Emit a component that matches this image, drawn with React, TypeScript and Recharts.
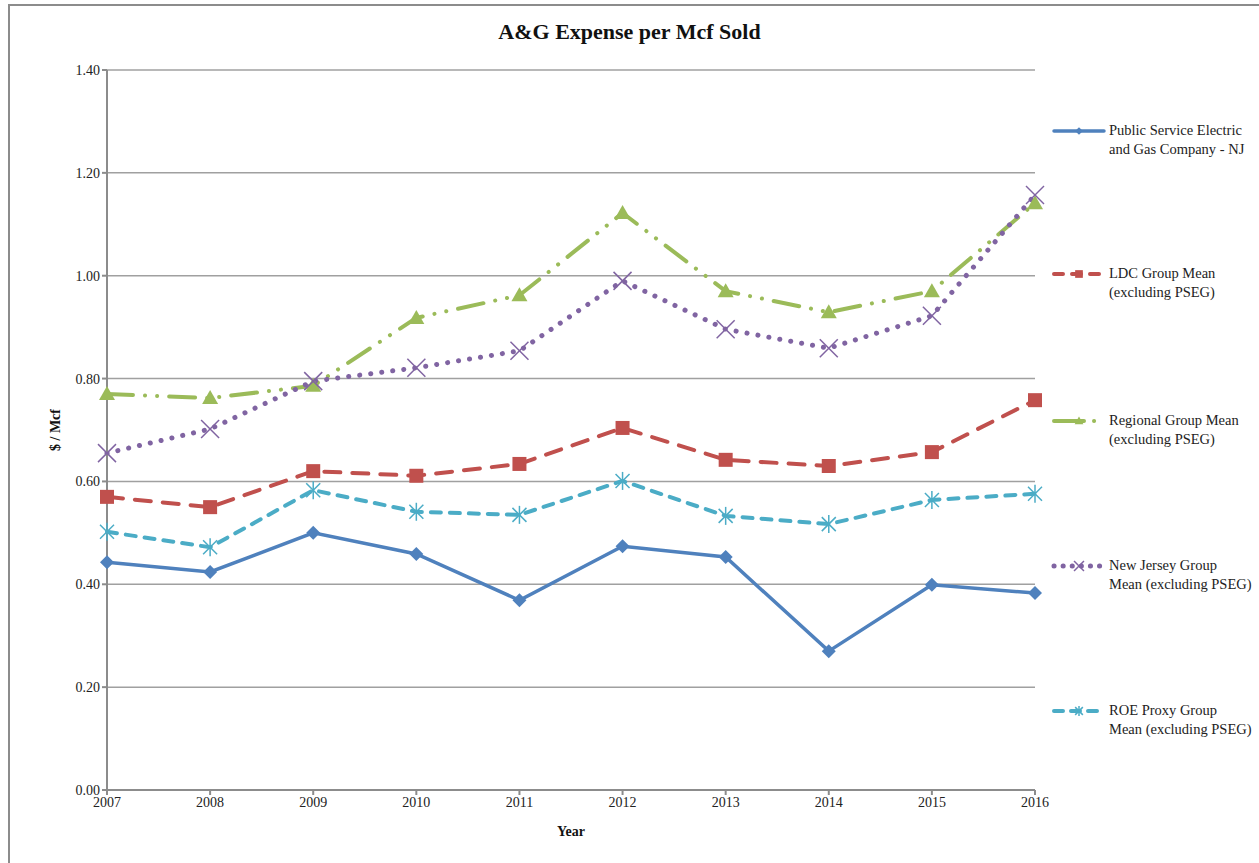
import React from "react";
import { LineChart, Line, XAxis, YAxis, CartesianGrid, Label } from "recharts";

const years = ["2007", "2008", "2009", "2010", "2011", "2012", "2013", "2014", "2015", "2016"];
const psegValues = [0.443, 0.424, 0.5, 0.459, 0.369, 0.474, 0.453, 0.27, 0.399, 0.383];
const ldcValues = [0.57, 0.55, 0.62, 0.611, 0.634, 0.704, 0.642, 0.63, 0.657, 0.758];
const regionalValues = [0.77, 0.762, 0.786, 0.918, 0.962, 1.122, 0.97, 0.929, 0.97, 1.141];
const njValues = [0.655, 0.702, 0.795, 0.821, 0.854, 0.99, 0.896, 0.859, 0.922, 1.157];
const roeValues = [0.502, 0.472, 0.583, 0.541, 0.535, 0.601, 0.533, 0.517, 0.564, 0.576];
const yTicks = [0, 0.2, 0.4, 0.6, 0.8, 1.0, 1.2, 1.4];

const data = years.map((y, i) => ({
  year: y,
  pseg: psegValues[i],
  ldc: ldcValues[i],
  regional: regionalValues[i],
  nj: njValues[i],
  roe: roeValues[i],
}));

const FONT = "'Liberation Serif', 'DejaVu Serif', serif";
const BLUE = "#4F81BD";
const RED = "#C0504D";
const GREEN = "#9BBB59";
const PURPLE = "#8064A2";
const CYAN = "#4BACC6";

type MK = "diamond" | "square" | "triangle" | "x" | "star";

const markerShape = (kind: MK, cx: number, cy: number, color: string, k: number = 1) => {
  switch (kind) {
    case "diamond":
      return <path d={`M${cx},${cy - 7 * k} L${cx + 7 * k},${cy} L${cx},${cy + 7 * k} L${cx - 7 * k},${cy} Z`} fill={color} />;
    case "square":
      return <rect x={cx - 7 * k} y={cy - 7 * k} width={14 * k} height={14 * k} fill={color} />;
    case "triangle":
      return <path d={`M${cx},${cy - 8 * k} L${cx + 8 * k},${cy + 6 * k} L${cx - 8 * k},${cy + 6 * k} Z`} fill={color} />;
    case "x":
      return (
        <g stroke={color} strokeWidth={1.5}>
          <line x1={cx - 9 * k} y1={cy - 9 * k} x2={cx + 9 * k} y2={cy + 9 * k} />
          <line x1={cx - 9 * k} y1={cy + 9 * k} x2={cx + 9 * k} y2={cy - 9 * k} />
        </g>
      );
    case "star":
      return (
        <g stroke={color} strokeWidth={1.5}>
          <line x1={cx - 7 * k} y1={cy - 7 * k} x2={cx + 7 * k} y2={cy + 7 * k} />
          <line x1={cx - 7 * k} y1={cy + 7 * k} x2={cx + 7 * k} y2={cy - 7 * k} />
          <line x1={cx} y1={cy - 9 * k} x2={cx} y2={cy + 9 * k} />
        </g>
      );
  }
};

const makeDot = (kind: MK, color: string) => (props: any) => {
  const { cx, cy, index } = props;
  if (cx == null || cy == null) return <g key={`d-${kind}-${index}`} />;
  return <g key={`d-${kind}-${index}`}>{markerShape(kind, cx, cy, color)}</g>;
};

const series = [
  { key: "pseg", name: ["Public Service Electric", "and Gas Company - NJ"], color: BLUE, dash: undefined as string | undefined, width: 3.5, marker: "diamond" as MK, top: 131 },
  { key: "ldc", name: ["LDC Group Mean", "(excluding PSEG)"], color: RED, dash: "16 12", width: 4, marker: "square" as MK, top: 274 },
  { key: "regional", name: ["Regional Group Mean", "(excluding PSEG)"], color: GREEN, dash: "26 12 0.1 12 0.1 12", width: 4, marker: "triangle" as MK, top: 421 },
  { key: "nj", name: ["New Jersey Group", "Mean (excluding PSEG)"], color: PURPLE, dash: "0.1 11", width: 5, marker: "x" as MK, top: 566 },
  { key: "roe", name: ["ROE Proxy Group", "Mean (excluding PSEG)"], color: CYAN, dash: "10 9", width: 4, marker: "star" as MK, top: 711 },
];

const legendDash: Record<string, string | undefined> = {
  pseg: undefined,
  ldc: "9 9",
  regional: "30 10 0.1 10",
  nj: "0.1 9",
  roe: "9 8",
};

export default function App() {
  return (
    <div style={{ position: "absolute", left: 0, top: 0, width: 1259, height: 863, background: "#fff", overflow: "hidden" }}>
      <div style={{ position: "absolute", left: 8, top: 4, width: 1300, height: 900, borderLeft: "2px solid #8c8c8c", borderTop: "2px solid #8c8c8c" }} />
      <div style={{ position: "absolute", left: 0, top: 19, width: 1259, textAlign: "center", fontFamily: FONT, fontWeight: "bold", fontSize: 22, color: "#111" }}>
        A&amp;G Expense per Mcf Sold
      </div>
      <div style={{ position: "absolute", left: 0, top: 0 }}>
        <LineChart width={1259} height={863} data={data} margin={{ top: 70, right: 224, bottom: 13, left: 47 }}>
          <CartesianGrid horizontal={true} vertical={false} stroke="#A0A0A0" strokeWidth={1.5} />
          <XAxis
            dataKey="year"
            stroke="#8c8c8c"
            strokeWidth={2}
            tickSize={5}
            tick={{ fill: "#222", fontFamily: FONT, fontSize: 14 }}
            tickLine={{ stroke: "#8c8c8c" }}
            interval={0}
            height={60}
          >
            <Label value="Year" position="insideTop" offset={36} style={{ fontFamily: FONT, fontWeight: "bold", fontSize: 14, fill: "#111" }} />
          </XAxis>
          <YAxis
            type="number"
            domain={[0, 1.4]}
            ticks={yTicks}
            stroke="#8c8c8c"
            strokeWidth={2}
            tickSize={5}
            width={60}
            tick={{ fill: "#222", fontFamily: FONT, fontSize: 14 }}
            tickFormatter={(v: number) => v.toFixed(2)}
            interval={0}
          >
            <Label value="$ / Mcf" angle={-90} position="insideLeft" offset={8} style={{ fontFamily: FONT, fontWeight: "bold", fontSize: 14, fill: "#111", textAnchor: "middle" }} />
          </YAxis>
          {series.map((s) => (
            <Line
              key={s.key}
              dataKey={s.key}
              type="linear"
              stroke={s.color}
              strokeWidth={s.width}
              strokeDasharray={s.dash}
              strokeLinecap="round"
              dot={makeDot(s.marker, s.color)}
              activeDot={false}
              isAnimationActive={false}
            />
          ))}
        </LineChart>
      </div>
      {series.map((s) => (
        <div key={s.key}>
          <svg style={{ position: "absolute", left: 1050, top: s.top - 10 }} width={58} height={20}>
            <line x1={4} y1={10} x2={54} y2={10} stroke={s.color} strokeWidth={s.width} strokeDasharray={legendDash[s.key]} strokeLinecap="round" />
            {markerShape(s.marker, 29, 10, s.color, 0.55)}
          </svg>
          <div style={{ position: "absolute", left: 1109, top: s.top - 10, fontFamily: FONT, fontSize: 14.5, lineHeight: "19px", color: "#222", whiteSpace: "nowrap" }}>
            {s.name[0]}
            <br />
            {s.name[1]}
          </div>
        </div>
      ))}
    </div>
  );
}
